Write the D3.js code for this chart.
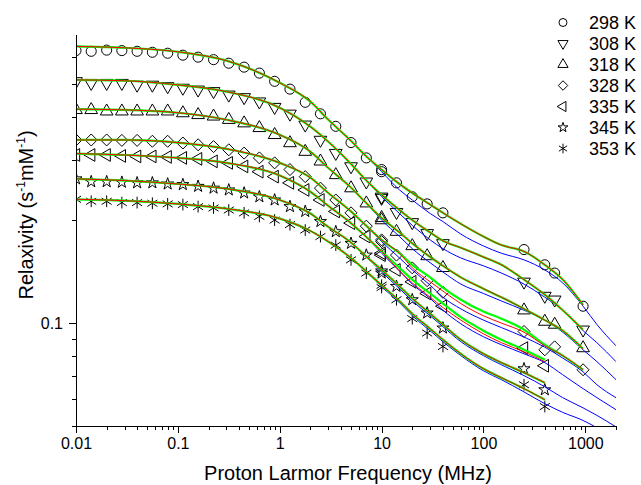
<html>
<head>
<meta charset="utf-8">
<style>
  body { margin: 0; background: white; }
  svg { background: white; font-family: "Liberation Sans", Arial, sans-serif; }
  .axis path, .axis line { fill: none; stroke: black; stroke-width: 1; shape-rendering: crispEdges; }
  .axis text { font-size: 16px; fill: black; }
</style>
</head>
<body>
<div id="chart"></div>
<script src="https://cdn.jsdelivr.net/npm/d3@7"></script>
<script>
// series names
var seriesNames = ["298 K", "308 K", "318 K", "328 K", "335 K", "345 K", "353 K"];

// measured frequencies (MHz): FFC, VF, high field
var ptFreqTop = [0.01, 0.0141, 0.02, 0.0282, 0.0398, 0.0562, 0.0794, 0.112, 0.158, 0.224, 0.316, 0.447, 0.631, 0.891, 1.26, 1.78, 2.51, 3.55, 5.01, 7.08, 10,
                 10, 14, 20, 28, 40, 250, 400, 500, 950];
var ptFreqLow = [0.01, 0.0141, 0.02, 0.0282, 0.0398, 0.0562, 0.0794, 0.112, 0.158, 0.224, 0.316, 0.447, 0.631, 0.891, 1.26, 1.78, 2.51, 3.55, 5.01, 7.08, 10,
                 10, 14, 20, 28, 40, 250, 400];

// measured relaxivities
var pts298 = [0.626, 0.623, 0.628, 0.626, 0.623, 0.619, 0.615, 0.607, 0.599, 0.589, 0.575, 0.560, 0.538, 0.509, 0.483, 0.442, 0.409, 0.376, 0.337, 0.304, 0.281,
              0.277, 0.257, 0.234, 0.223, 0.210, 0.164, 0.148, 0.140, 0.112];
var pts308 = [0.509, 0.503, 0.503, 0.503, 0.497, 0.497, 0.492, 0.487, 0.481, 0.476, 0.465, 0.457, 0.444, 0.428, 0.409, 0.380, 0.343, 0.314, 0.287, 0.259, 0.234,
              0.232, 0.211, 0.197, 0.183, 0.171, 0.132, 0.120, 0.117, 0.0956];
var pts318 = [0.420, 0.420, 0.416, 0.416, 0.416, 0.416, 0.416, 0.411, 0.406, 0.402, 0.393, 0.384, 0.372, 0.355, 0.336, 0.317, 0.297, 0.271, 0.248, 0.224, 0.203,
              0.200, 0.185, 0.168, 0.157, 0.145, 0.109, 0.101, 0.099, 0.0845];
var pts328 = [0.343, 0.343, 0.343, 0.342, 0.342, 0.340, 0.340, 0.336, 0.332, 0.328, 0.321, 0.314, 0.304, 0.294, 0.281, 0.268, 0.248, 0.229, 0.210, 0.192, 0.175,
              0.173, 0.158, 0.145, 0.133, 0.123, 0.0945, 0.0835, 0.0852, 0.073];
var pts335 = [0.310, 0.310, 0.310, 0.308, 0.307, 0.307, 0.306, 0.304, 0.302, 0.297, 0.294, 0.287, 0.277, 0.268, 0.257, 0.245, 0.229, 0.212, 0.196, 0.179, 0.160,
              0.158, 0.143, 0.132, 0.122, 0.112, 0.0845, 0.075];
var pts345 = [0.264, 0.259, 0.259, 0.258, 0.257, 0.257, 0.255, 0.254, 0.251, 0.248, 0.245, 0.240, 0.234, 0.229, 0.219, 0.212, 0.198, 0.185, 0.171, 0.158, 0.142,
              0.140, 0.128, 0.117, 0.107, 0.0967, 0.0735, 0.0638];
var pts353 = [0.230, 0.227, 0.227, 0.225, 0.225, 0.224, 0.223, 0.222, 0.219, 0.217, 0.214, 0.210, 0.205, 0.200, 0.194, 0.187, 0.179, 0.169, 0.153, 0.140, 0.129,
              0.127, 0.117, 0.103, 0.0935, 0.0854, 0.066, 0.057];

// fitted curves (green, red, blue)
var fitFreq = [0.01, 0.03, 0.1, 0.3, 1, 2, 3, 5, 7, 10, 15, 20, 30, 40, 60, 100, 150, 250, 400, 600, 950];
var fitFreqLow = [0.01, 0.03, 0.1, 0.3, 1, 2, 3, 5, 7, 10, 15, 20, 30, 40, 60, 100, 150, 250, 400];
var blueFreq = [0.01, 0.03, 0.1, 0.3, 1, 2, 3, 5, 7, 10, 15, 20, 30, 40, 60, 100, 150, 250, 400, 600, 950, 1300, 2000];

var green298 = [0.644, 0.638, 0.621, 0.585, 0.504, 0.444, 0.393, 0.341, 0.308, 0.281, 0.255, 0.240, 0.222, 0.210, 0.195, 0.179, 0.169, 0.162, 0.148, 0.134, 0.113];
var blue298 = [0.644, 0.638, 0.621, 0.585, 0.504, 0.444, 0.393, 0.341, 0.308, 0.277, 0.245, 0.229, 0.209, 0.198, 0.182, 0.168, 0.160, 0.153, 0.143, 0.131, 0.112, 0.099, 0.0858];
var green308 = [0.514, 0.511, 0.497, 0.475, 0.426, 0.375, 0.339, 0.292, 0.262, 0.237, 0.214, 0.200, 0.184, 0.174, 0.166, 0.156, 0.148, 0.134, 0.121, 0.109, 0.0956];
var blue308 = [0.514, 0.511, 0.497, 0.475, 0.426, 0.375, 0.339, 0.292, 0.262, 0.234, 0.209, 0.193, 0.175, 0.165, 0.155, 0.147, 0.140, 0.130, 0.119, 0.109, 0.095, 0.0876, 0.0771];
var green318 = [0.422, 0.420, 0.412, 0.393, 0.355, 0.317, 0.284, 0.249, 0.225, 0.203, 0.184, 0.171, 0.156, 0.147, 0.136, 0.126, 0.119, 0.110, 0.102, 0.095, 0.0841];
var blue318 = [0.422, 0.420, 0.412, 0.393, 0.355, 0.317, 0.284, 0.249, 0.225, 0.200, 0.179, 0.165, 0.150, 0.141, 0.130, 0.122, 0.116, 0.109, 0.102, 0.094, 0.0835, 0.0771, 0.0683];
var green328 = [0.343, 0.343, 0.337, 0.323, 0.294, 0.266, 0.240, 0.212, 0.193, 0.175, 0.160, 0.148, 0.136, 0.127, 0.117, 0.108, 0.103, 0.0956, 0.0864, 0.0803, 0.073];
var red328 = [0.343, 0.343, 0.337, 0.323, 0.294, 0.266, 0.240, 0.212, 0.193, 0.175, 0.160, 0.145, 0.132, 0.124, 0.114, 0.105, 0.100, 0.094, 0.0858, 0.0803, 0.073];
var blue328 = [0.343, 0.343, 0.337, 0.323, 0.294, 0.266, 0.240, 0.212, 0.193, 0.173, 0.155, 0.143, 0.129, 0.119, 0.110, 0.102, 0.097, 0.091, 0.085, 0.079, 0.072, 0.066, 0.0605];
var green335 = [0.313, 0.310, 0.304, 0.294, 0.270, 0.242, 0.220, 0.196, 0.179, 0.162, 0.145, 0.134, 0.122, 0.114, 0.104, 0.095, 0.0894, 0.0835, 0.0781];
var red335 = [0.313, 0.310, 0.304, 0.294, 0.270, 0.242, 0.220, 0.196, 0.179, 0.162, 0.142, 0.131, 0.119, 0.111, 0.102, 0.093, 0.0876, 0.0824, 0.0771];
var blue335 = [0.313, 0.310, 0.304, 0.294, 0.270, 0.242, 0.220, 0.196, 0.179, 0.160, 0.142, 0.130, 0.118, 0.109, 0.0995, 0.0912, 0.0864, 0.0813, 0.0766, 0.0706, 0.0643, 0.0605, 0.0558];
var green345 = [0.264, 0.261, 0.255, 0.247, 0.229, 0.209, 0.191, 0.172, 0.157, 0.143, 0.128, 0.118, 0.1065, 0.0989, 0.0894, 0.0813, 0.0766, 0.0716, 0.0669];
var blue345 = [0.264, 0.261, 0.255, 0.247, 0.229, 0.209, 0.191, 0.172, 0.157, 0.141, 0.126, 0.116, 0.105, 0.0976, 0.0882, 0.0803, 0.0755, 0.0702, 0.0651, 0.0605, 0.0565, 0.0537, 0.0497];
var green353 = [0.230, 0.228, 0.223, 0.216, 0.202, 0.186, 0.173, 0.155, 0.142, 0.129, 0.116, 0.1065, 0.0962, 0.0894, 0.0813, 0.0735, 0.0692, 0.0643, 0.0597];
var blue353 = [0.230, 0.228, 0.223, 0.216, 0.202, 0.186, 0.173, 0.155, 0.142, 0.1277, 0.1147, 0.1051, 0.0949, 0.0882, 0.0803, 0.0725, 0.0683, 0.0629, 0.0581, 0.0548, 0.0519, 0.0494, 0.0454];

// axis ticks
var xTickValues = [0.01, 0.1, 1, 10, 100, 1000];
var xTickLabels = ["0.01", "0.1", "1", "10", "100", "1000"];
var yTickValues = [0.1];
var yTickLabels = ["0.1"];

var fullWidth = 641, fullHeight = 485;
var plot = {left: 76, right: 616, top: 34, bottom: 426};

var svg = d3.select("#chart").append("svg")
    .attr("width", fullWidth)
    .attr("height", fullHeight);

var xScale = d3.scaleLog().domain([0.01, 2000]).range([plot.left, plot.right]);
var yScale = d3.scaleLog().domain([0.05, 0.7]).range([plot.bottom, plot.top]);

svg.append("clipPath").attr("id", "clip").append("rect")
    .attr("x", plot.left).attr("y", plot.top - 10)
    .attr("width", plot.right - plot.left).attr("height", plot.bottom - plot.top + 10);

// symbols
var downTri = {draw: function(c, s) { var h = Math.sqrt(s / 0.433); var a = h / 2; var y = h * 0.2887;
    c.moveTo(-a, -y); c.lineTo(a, -y); c.lineTo(0, 2 * y); c.closePath(); }};
var upTri = {draw: function(c, s) { var h = Math.sqrt(s / 0.433); var a = h / 2; var y = h * 0.2887;
    c.moveTo(-a, y); c.lineTo(a, y); c.lineTo(0, -2 * y); c.closePath(); }};
var leftTri = {draw: function(c, s) { var h = Math.sqrt(s / 0.433); var a = h / 2; var y = h * 0.2887;
    c.moveTo(y, -a); c.lineTo(y, a); c.lineTo(-2 * y, 0); c.closePath(); }};
var diamond = {draw: function(c, s) { var r = Math.sqrt(s / 2);
    c.moveTo(0, -r); c.lineTo(r, 0); c.lineTo(0, r); c.lineTo(-r, 0); c.closePath(); }};
var asterisk = {draw: function(c, s) { var r = Math.sqrt(s) * 0.62; var u = r * 0.85, t = r * 0.55;
    c.moveTo(0, -r); c.lineTo(0, r); c.moveTo(-u, -t); c.lineTo(u, t); c.moveTo(-u, t); c.lineTo(u, -t); }};
var symbolTypes = [d3.symbolCircle, downTri, upTri, diamond, leftTri, d3.symbolStar, asterisk];
var symbolSizes = [80, 70, 70, 72, 70, 45, 90];
var legendSizes = [50, 45, 45, 45, 45, 30, 60];

var ptSets = [
    {f: ptFreqTop, v: pts298}, {f: ptFreqTop, v: pts308}, {f: ptFreqTop, v: pts318}, {f: ptFreqTop, v: pts328},
    {f: ptFreqLow, v: pts335}, {f: ptFreqLow, v: pts345}, {f: ptFreqLow, v: pts353}
];
var curveSets = [
    {gf: fitFreq, g: green298, r: green298, b: blue298},
    {gf: fitFreq, g: green308, r: green308, b: blue308},
    {gf: fitFreq, g: green318, r: green318, b: blue318},
    {gf: fitFreq, g: green328, r: red328, b: blue328},
    {gf: fitFreqLow, g: green335, r: red335, b: blue335},
    {gf: fitFreqLow, g: green345, r: green345, b: blue345},
    {gf: fitFreqLow, g: green353, r: green353, b: blue353}
];

// points (clipped at the left axis like the original)
var pointsG = svg.append("g").attr("clip-path", "url(#clip)");
ptSets.forEach(function(s, i) {
    pointsG.selectAll(null).data(s.v).enter().append("path")
        .attr("d", d3.symbol().type(symbolTypes[i]).size(symbolSizes[i]))
        .attr("transform", function(d, j) { return "translate(" + xScale(s.f[j]) + "," + yScale(d) + ")"; })
        .attr("fill", "none").attr("stroke", "black").attr("stroke-width", 1);
});

var line = d3.line().curve(d3.curveMonotoneX)
    .x(function(d) { return xScale(d[0]); })
    .y(function(d) { return yScale(d[1]); });
var linesG = svg.append("g").attr("clip-path", "url(#clip)");
function pairs(f, v) { return v.map(function(d, j) { return [f[j], d]; }); }

curveSets.forEach(function(c) {
    linesG.append("path").attr("d", line(pairs(blueFreq, c.b)))
        .attr("fill", "none").attr("stroke", "#0000ff").attr("stroke-width", 1);
});
curveSets.forEach(function(c) {
    linesG.append("path").attr("d", line(pairs(c.gf, c.g)))
        .attr("fill", "none").attr("stroke", "#00ff00").attr("stroke-width", 2.2);
});
curveSets.forEach(function(c) {
    linesG.append("path").attr("d", line(pairs(c.gf, c.r)))
        .attr("fill", "none").attr("stroke", "#ff0000").attr("stroke-width", 1);
});

// minor ticks
var xMinor = [], yMinor = [];
[0.01, 0.1, 1, 10, 100, 1000].forEach(function(d) {
    for (var k = 2; k <= 9; k++) if (d * k <= 2000) xMinor.push(d * k);
});
[0.01, 0.1].forEach(function(d) {
    for (var k = 2; k <= 9; k++) if (d * k >= 0.05 && d * k <= 0.7) yMinor.push(d * k);
});

svg.append("g").attr("class", "axis")
    .attr("transform", "translate(0," + plot.bottom + ")")
    .call(d3.axisBottom(xScale).tickValues(xMinor).tickSize(4).tickFormat("").tickSizeOuter(0));
svg.append("g").attr("class", "axis x")
    .attr("transform", "translate(0," + plot.bottom + ")")
    .call(d3.axisBottom(xScale).tickValues(xTickValues).tickSize(7).tickSizeOuter(0)
        .tickFormat(function(d, i) { return xTickLabels[i]; }))
    .selectAll("text").attr("y", 12).attr("dy", "0.71em");

svg.append("g").attr("class", "axis")
    .attr("transform", "translate(" + plot.left + ",0)")
    .call(d3.axisLeft(yScale).tickValues(yMinor).tickSize(4).tickFormat("").tickSizeOuter(0));
svg.append("g").attr("class", "axis y")
    .attr("transform", "translate(" + plot.left + ",0)")
    .call(d3.axisLeft(yScale).tickValues(yTickValues).tickSize(7).tickSizeOuter(0)
        .tickFormat(function(d, i) { return yTickLabels[i]; }))
    .selectAll("text").attr("x", -13);

// axis titles
svg.append("text")
    .attr("x", 348).attr("y", 480)
    .attr("text-anchor", "middle")
    .attr("font-size", "20px")
    .text("Proton Larmor Frequency (MHz)");

var ylab = svg.append("text")
    .attr("transform", "translate(33,215) rotate(-90)")
    .attr("text-anchor", "middle")
    .attr("font-size", "20px");
ylab.append("tspan").text("Relaxivity (s");
ylab.append("tspan").attr("dy", -8).attr("font-size", "12px").text("-1");
ylab.append("tspan").attr("dy", 8).text("mM");
ylab.append("tspan").attr("dy", -8).attr("font-size", "12px").text("-1");
ylab.append("tspan").attr("dy", 8).text(")");

// legend
var legend = svg.append("g");
seriesNames.forEach(function(name, i) {
    var y = 22.5 + i * 21;
    legend.append("path")
        .attr("d", d3.symbol().type(symbolTypes[i]).size(legendSizes[i]))
        .attr("transform", "translate(563," + y + ")")
        .attr("fill", "none").attr("stroke", "black").attr("stroke-width", 1);
    legend.append("text")
        .attr("x", 589).attr("y", y + 6.5)
        .attr("font-size", "18px")
        .text(name);
});
</script>
</body>
</html>
